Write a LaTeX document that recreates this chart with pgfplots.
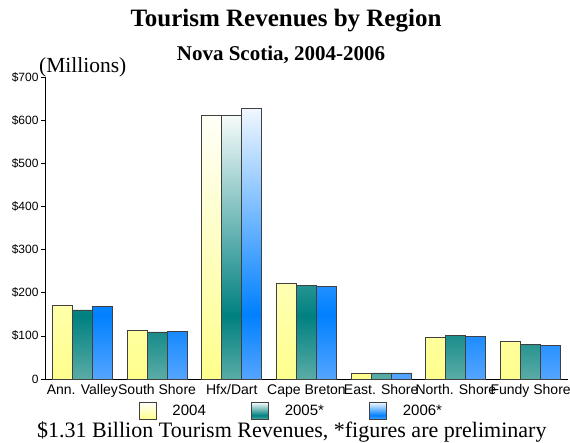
\documentclass[border=0pt]{standalone}
\usepackage{pgfplots}
\pgfplotsset{compat=1.18}
\usepackage{fontspec}
\setmainfont{Liberation Serif}
\newfontfamily\arial{Liberation Sans}
\definecolor{yelB}{RGB}{255,255,140}
\definecolor{yelT}{RGB}{255,255,248}
\definecolor{tealT}{RGB}{245,251,250}
\definecolor{tealD}{RGB}{0,128,128}
\definecolor{tealB}{RGB}{90,172,166}
\definecolor{blueT}{RGB}{240,247,255}
\definecolor{blueD}{RGB}{0,128,255}
\definecolor{blueB}{RGB}{85,165,255}
\pgfdeclareverticalshading{yelshade}{100bp}{color(0bp)=(yelB); color(25bp)=(yelB); color(75bp)=(yelT); color(100bp)=(yelT)}
\pgfdeclareverticalshading{tealshade}{100bp}{color(0bp)=(tealB); color(25bp)=(tealB); color(37bp)=(tealD); color(75bp)=(tealT); color(100bp)=(tealT)}
\pgfdeclareverticalshading{blueshade}{100bp}{color(0bp)=(blueB); color(25bp)=(blueB); color(37bp)=(blueD); color(75bp)=(blueT); color(100bp)=(blueT)}
\begin{document}
\begin{tikzpicture}
\path[use as bounding box] (0pt,0pt) rectangle (570pt,443pt);
\begin{axis}[
  at={(45pt,64pt)}, anchor=south west,
  scale only axis, width=523pt, height=302pt,
  xmin=-0.5, xmax=6.5, ymin=0, ymax=700,
  axis x line*=bottom, axis y line*=left,
  axis line style={black, line width=0.9pt, -},
  ybar=0pt, bar width=20pt,
  xtick={0,...,6},
  xticklabels={Ann. Valley,South Shore,Hfx/Dart,Cape Breton,East. Shore,North. Shore,Fundy Shore},
  x tick label style={font=\arial\fontsize{14}{16}\selectfont, yshift=2pt},
  major x tick style={draw=none},
  ytick={0,100,...,700},
  yticklabels={0,\$100,\$200,\$300,\$400,\$500,\$600,\$700},
  y tick label style={font=\arial\fontsize{12}{14}\selectfont, xshift=1pt},
  major y tick style={black, line width=0.6pt},
  tick align=outside, major tick length=4pt,
  legend style={at={(0.471,-0.106)}, anchor=center, draw=none, fill=none,
    legend columns=3, font=\arial\fontsize{15}{17}\selectfont,
    /tikz/every odd column/.append style={column sep=14pt},
    /tikz/every even column/.append style={column sep=43pt}},
  legend image code/.code={\draw[#1] (0pt,-8.5pt) rectangle (17pt,8.5pt);},
  clip=false,
]
\addplot[draw=black!75, line width=0.9pt, shading=yelshade] coordinates {(0,171) (1,113) (2,612) (3,222) (4,14) (5,96) (6,86)};
\addplot[draw=black!75, line width=0.9pt, shading=tealshade] coordinates {(0,160) (1,109) (2,610) (3,217) (4,14) (5,101) (6,80)};
\addplot[draw=black!75, line width=0.9pt, shading=blueshade] coordinates {(0,167) (1,111) (2,626) (3,214) (4,14) (5,99) (6,77)};
\legend{2004,2005*,2006*}
\end{axis}
\node[font=\bfseries\fontsize{25}{28}\selectfont] at (286pt,422pt) {Tourism Revenues by Region};
\node[font=\bfseries\fontsize{21}{24}\selectfont] at (281pt,388pt) {Nova Scotia, 2004-2006};
\node[anchor=west, inner sep=0pt, font=\fontsize{21.5}{24}\selectfont] at (39pt,376pt) {(Millions)};
\node[anchor=west, inner sep=0pt, font=\fontsize{22}{24}\selectfont] at (37pt,11pt) {\$1.31 Billion Tourism Revenues, *figures are preliminary};
\end{tikzpicture}
\end{document}
